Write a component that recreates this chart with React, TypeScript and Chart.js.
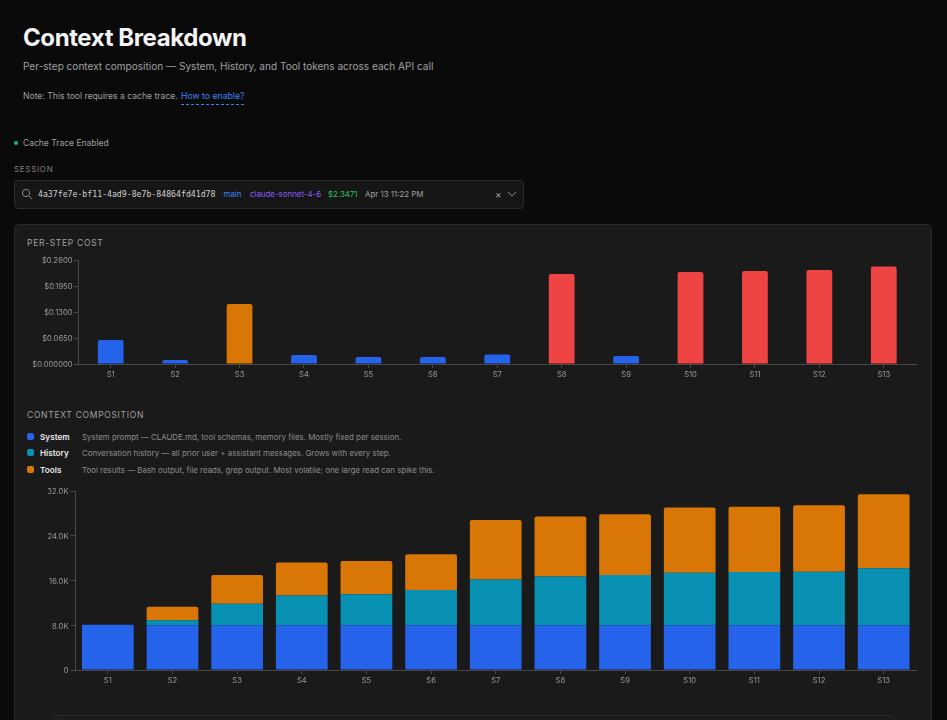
import { useEffect, useRef, CSSProperties } from "react";
import Chart from "chart.js/auto";

const steps = ["S1", "S2", "S3", "S4", "S5", "S6", "S7", "S8", "S9", "S10", "S11", "S12", "S13"];

const stepCost = [0.06, 0.01, 0.15, 0.0225, 0.0175, 0.0175, 0.024, 0.225, 0.02, 0.23, 0.2325, 0.235, 0.244];

// tokens, in thousands
const systemTokens = [8.1, 8, 8, 8, 8, 8, 8, 8, 8, 8, 8, 8, 8];
const historyTokens = [0, 0.9, 3.85, 5.3, 5.55, 6.3, 8.2, 8.7, 9, 9.4, 9.5, 9.55, 10.2];
const toolTokens = [0, 2.4, 5.15, 5.9, 5.95, 6.4, 10.6, 10.75, 10.85, 11.65, 11.7, 11.9, 13.2];

const legendRows = [
    { name: "System", color: "#2563eb", text: "System prompt — CLAUDE.md, tool schemas, memory files. Mostly fixed per session." },
    { name: "History", color: "#0891b2", text: "Conversation history — all prior user + assistant messages. Grows with every step." },
    { name: "Tools", color: "#d97706", text: "Tool results — Bash output, file reads, grep output. Most volatile; one large read can spike this." },
];

const AXIS = "#484848";
const TICK = "#9a9a9a";
const UI = "Inter, 'Noto Sans', sans-serif";

const costColor = (v: number) => (v >= 0.2 ? "#ef4444" : v >= 0.1 ? "#d97706" : "#2563eb");

const xAxis = (height: number) => ({
    afterFit: (s: any) => { s.height = height; },
    grid: { display: true, drawOnChartArea: false, drawTicks: true, tickLength: 4, color: AXIS, offset: false },
    border: { color: AXIS, width: 1 },
    ticks: { color: TICK, font: { family: UI, size: 7.6 }, padding: 2, maxRotation: 0, autoSkip: false },
});

const yAxis = (width: number) => ({
    afterFit: (s: any) => { s.width = width; },
    grid: { display: true, drawOnChartArea: false, drawTicks: true, tickLength: 5, color: AXIS },
    border: { color: AXIS, width: 1 },
});

function Text({ x, y, size, color, children, style }: { x: number, y: number, size: number, color: string, children: any, style?: CSSProperties }) {
    return (
        <div style={{ position: "absolute", left: x, top: y, fontSize: size, lineHeight: "14px", height: 14, color, whiteSpace: "nowrap", fontFamily: UI, ...style }}>
            {children}
        </div>
    );
}

function App() {
    const costRef = useRef<HTMLCanvasElement | null>(null);
    const stackRef = useRef<HTMLCanvasElement | null>(null);

    useEffect(() => {
        const cost = new Chart(costRef.current!, {
            type: "bar",
            data: {
                labels: steps,
                datasets: [{
                    data: stepCost,
                    backgroundColor: stepCost.map(costColor),
                    borderRadius: { topLeft: 2, topRight: 2, bottomLeft: 0, bottomRight: 0 },
                    borderSkipped: false,
                    barPercentage: 0.4,
                    categoryPercentage: 1,
                }],
            },
            options: {
                animation: false,
                responsive: false,
                layout: { padding: { left: 0, right: 16, top: 10, bottom: 0 } },
                plugins: { legend: { display: false }, tooltip: { enabled: false } },
                scales: {
                    x: xAxis(21),
                    y: {
                        ...yAxis(64.5),
                        min: 0,
                        max: 0.26,
                        ticks: {
                            stepSize: 0.065,
                            color: TICK,
                            font: { family: UI, size: 7.6 },
                            padding: 1,
                            labelOffset: 1,
                            callback: (v: any) => (v === 0 ? "$0.000000" : "$" + Number(v).toFixed(4)),
                        },
                    },
                },
            },
        } as any);

        const stack = new Chart(stackRef.current!, {
            type: "bar",
            data: {
                labels: steps,
                datasets: [
                    { label: "System", data: systemTokens, backgroundColor: "#2563eb" },
                    { label: "History", data: historyTokens, backgroundColor: "#0891b2" },
                    { label: "Tools", data: toolTokens, backgroundColor: "#d97706", borderRadius: { topLeft: 2, topRight: 2, bottomLeft: 0, bottomRight: 0 }, borderSkipped: false },
                ].map((d) => ({ ...d, barPercentage: 0.8, categoryPercentage: 1 })),
            },
            options: {
                animation: false,
                responsive: false,
                layout: { padding: { left: 0, right: 16, top: 11, bottom: 0 } },
                plugins: { legend: { display: false }, tooltip: { enabled: false } },
                scales: {
                    x: { ...xAxis(21), stacked: true },
                    y: {
                        ...yAxis(61.5),
                        stacked: true,
                        min: 0,
                        max: 32,
                        ticks: {
                            stepSize: 8,
                            color: TICK,
                            font: { family: UI, size: 7.6 },
                            padding: 2,
                            labelOffset: 1,
                            callback: (v: any) => (v === 0 ? "0" : Number(v).toFixed(1) + "K"),
                        },
                    },
                },
            },
        } as any);

        return () => {
            cost.destroy();
            stack.destroy();
        };
    }, []);

    return (
        <div style={{ position: "absolute", left: 0, top: 0, width: 947, height: 720, overflow: "hidden", background: "#0a0a0b", fontFamily: UI }}>
            <Text x={23} y={31} size={24} color="#f4f4f4" style={{ fontWeight: 700, letterSpacing: -0.4 }}>Context Breakdown</Text>
            <Text x={23} y={59} size={10.07} color="#a0a0a0">Per-step context composition — System, History, and Tool tokens across each API call</Text>
            <Text x={23} y={89} size={8.6} color="#a0a0a0">Note: This tool requires a cache trace.</Text>
            <Text x={181} y={89} size={8.7} color="#3b82f6" style={{ height: 14.5, borderBottom: "1px dashed #3b82f6" }}>How to enable?</Text>

            <div style={{ position: "absolute", left: 14, top: 141, width: 4, height: 4, borderRadius: 2, background: "#10b981" }} />
            <Text x={23} y={136} size={8.5} color="#a0a0a0">Cache Trace Enabled</Text>

            <Text x={14} y={162} size={8} color="#808080" style={{ letterSpacing: 0.7 }}>SESSION</Text>
            <div style={{ position: "absolute", left: 14, top: 180, width: 508, height: 27, background: "#161616", border: "1px solid #2a2a2a", borderRadius: 4 }} />
            <svg style={{ position: "absolute", left: 21, top: 188 }} width={12} height={12} viewBox="0 0 12 12" fill="none" stroke="#8a8a8a" strokeWidth={1}>
                <circle cx={5} cy={5} r={3.6} />
                <path d="M8 8l3 3" />
            </svg>
            <Text x={38} y={187} size={8.2} color="#d0d0d0" style={{ fontFamily: "'DejaVu Sans Mono', monospace" }}>4a37fe7e-bf11-4ad9-8e7b-84864fd41d78</Text>
            <Text x={223.5} y={187} size={7.9} color="#3b82f6">main</Text>
            <Text x={250} y={187} size={7.9} color="#8b5cf6">claude-sonnet-4-6</Text>
            <Text x={328} y={187} size={7.9} color="#22c55e">$2.3471</Text>
            <Text x={365} y={187} size={7.9} color="#a0a0a0">Apr 13 11:22 PM</Text>
            <Text x={495} y={187} size={10} color="#a0a0a0">×</Text>
            <svg style={{ position: "absolute", left: 507, top: 189 }} width={10} height={10} viewBox="0 0 10 10" fill="none" stroke="#8a8a8a" strokeWidth={1}>
                <path d="M1 3l4 4 4-4" />
            </svg>

            {/* panel */}
            <div style={{ position: "absolute", left: 14, top: 224, width: 916, height: 520, background: "#1a1a1a", border: "1px solid #2a2a2a", borderRadius: 5 }} />

            <Text x={27} y={236} size={8.5} color="#a0a0a0" style={{ letterSpacing: 0.7 }}>PER-STEP COST</Text>
            <canvas ref={costRef} width={918} height={135} style={{ position: "absolute", left: 14, top: 250, width: 918, height: 135 }} />

            <Text x={27} y={408} size={8.5} color="#a0a0a0" style={{ letterSpacing: 0.7 }}>CONTEXT COMPOSITION</Text>
            {legendRows.map((r, i) => (
                <div key={r.name}>
                    <div style={{ position: "absolute", left: 27, top: 433 + i * 16.4, width: 7, height: 7, borderRadius: 2, background: r.color }} />
                    <Text x={40} y={430 + i * 16.4} size={8.2} color="#e8e8e8" style={{ fontWeight: 600 }}>{r.name}</Text>
                    <Text x={82} y={430 + i * 16.4} size={7.9} color="#8c8c8c">{r.text}</Text>
                </div>
            ))}
            <canvas ref={stackRef} width={918} height={211} style={{ position: "absolute", left: 14, top: 480, width: 918, height: 211 }} />

            <div style={{ position: "absolute", left: 52, top: 715, width: 841, height: 30, background: "#1c1c1c", border: "1px solid #2a2a2a", borderRadius: 5 }} />
        </div>
    );
}

export default App;
